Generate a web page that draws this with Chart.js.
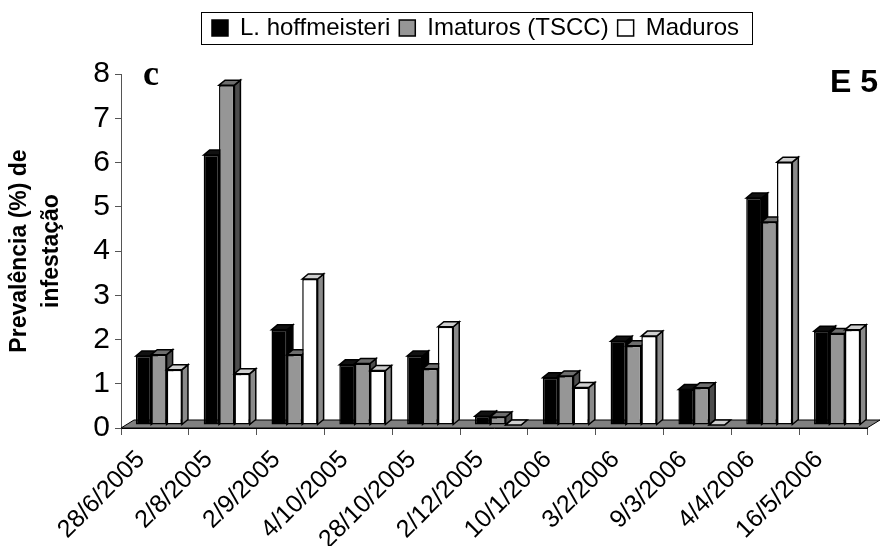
<!DOCTYPE html>
<html>
<head>
<meta charset="utf-8">
<script src="https://cdn.jsdelivr.net/npm/chart.js@4.4.1/dist/chart.umd.min.js"></script>
<style>
html, body { margin: 0; padding: 0; background: #fff; }
</style>
</head>
<body>
<canvas id="graphE5" width="885" height="546"></canvas>
<script>
// dates de collecte (E 5)
const dates = ["28/6/2005", "2/8/2005", "2/9/2005", "4/10/2005", "28/10/2005", "2/12/2005",
               "10/1/2006", "3/2/2006", "9/3/2006", "4/4/2006", "16/5/2006"];

// prévalence (%) par groupe
const hoffmeisteri = [1.56, 6.10, 2.15, 1.36, 1.56, 0.20, 1.07, 1.89, 0.80, 5.13, 2.12];
const imaturos     = [1.59, 7.68, 1.59, 1.39, 1.27, 0.18, 1.11, 1.79, 0.84, 4.59, 2.07];
const maduros      = [1.25, 1.16, 3.30, 1.23, 2.22, 0.00, 0.85, 2.01, 0.00, 5.94, 2.15];

const yMin = 0;
const yMax = 8;
const yPas = 1;

const police = "'Liberation Sans', Arial, sans-serif";

/* faces 3D des barres : côté et dessus, par série */
const faces = [
  {cote: "#000000", dessus: "#111111"},
  {cote: "#4d4d4d", dessus: "#6e6e6e"},
  {cote: "#8a8a8a", dessus: "#cfcfcf"}
];
const prof = {dx: 6, dy: -5};       // profondeur des barres
const recul = {x: 4, y: -3};        // barres posées en retrait sur le sol
const sol = {dx: 13, dy: -8};       // profondeur du sol

const relief3d = {
  id: "relief3d",
  beforeLayout(chart) {
    // espace sous la légende
    const leg = chart.legend;
    if (leg && !leg._agrandi) {
      const fit = leg.fit;
      leg.fit = function () {
        fit.call(this);
        this.height += 24;
      };
      leg._agrandi = true;
    }
  },
  afterLayout(chart) {
    chart.legend.left += 42;
    chart.legend.right += 42;
  },
  beforeDatasetsDraw(chart) {
    const ctx = chart.ctx;
    const a = chart.chartArea;
    ctx.save();
    ctx.beginPath();
    ctx.moveTo(a.left, a.bottom);
    ctx.lineTo(a.right, a.bottom);
    ctx.lineTo(a.right + sol.dx, a.bottom + sol.dy);
    ctx.lineTo(a.left + sol.dx, a.bottom + sol.dy);
    ctx.closePath();
    ctx.fillStyle = "#808080";
    ctx.fill();
    ctx.strokeStyle = "#000";
    ctx.lineWidth = 1;
    ctx.stroke();
    ctx.restore();
  },
  // les barres sont dessinées plus bas, série par série, de gauche à droite
  beforeDatasetDraw() {
    return false;
  },
  afterDatasetsDraw(chart) {
    const ctx = chart.ctx;
    ctx.save();
    ctx.translate(recul.x, recul.y);
    chart.data.datasets.forEach((ds, i) => {
      const meta = chart.getDatasetMeta(i);
      if (meta.hidden) return;
      const f = faces[i];
      meta.data.forEach(bar => {
        const p = bar.getProps(["x", "y", "base", "width"], true);
        const g = p.x - p.width / 2;
        const d = p.x + p.width / 2;
        ctx.strokeStyle = "#000";
        ctx.lineWidth = 1.5;
        // côté droit
        ctx.beginPath();
        ctx.moveTo(d, p.y);
        ctx.lineTo(d + prof.dx, p.y + prof.dy);
        ctx.lineTo(d + prof.dx, p.base + prof.dy);
        ctx.lineTo(d, p.base);
        ctx.closePath();
        ctx.fillStyle = f.cote;
        ctx.fill();
        ctx.stroke();
        // dessus
        ctx.beginPath();
        ctx.moveTo(g, p.y);
        ctx.lineTo(g + prof.dx, p.y + prof.dy);
        ctx.lineTo(d + prof.dx, p.y + prof.dy);
        ctx.lineTo(d, p.y);
        ctx.closePath();
        ctx.fillStyle = f.dessus;
        ctx.fill();
        ctx.stroke();
        // face avant
        bar.draw(ctx, chart.chartArea);
      });
    });
    ctx.restore();
  },
  afterDraw(chart) {
    const ctx = chart.ctx;
    // cadre de la légende
    const boites = chart.legend.legendHitBoxes;
    if (boites && boites.length) {
      let g = Infinity, d = -Infinity, h = Infinity, b = -Infinity;
      boites.forEach(bx => {
        g = Math.min(g, bx.left);
        d = Math.max(d, bx.left + bx.width);
        h = Math.min(h, bx.top);
        b = Math.max(b, bx.top + bx.height);
      });
      ctx.save();
      ctx.strokeStyle = "#000";
      ctx.lineWidth = 1;
      ctx.strokeRect(Math.round(g - 11) + 0.5, Math.round(h - 4) + 0.5, Math.round(d - g + 24), Math.round(b - h + 8));
      ctx.restore();
    }
    // repères du panneau
    ctx.save();
    ctx.fillStyle = "#000";
    ctx.textBaseline = "alphabetic";
    ctx.font = "bold 36px 'Liberation Serif', 'Times New Roman', serif";
    ctx.textAlign = "left";
    ctx.fillText("c", 143, 85);
    ctx.font = "bold 32px " + police;
    ctx.textAlign = "right";
    ctx.fillText("E 5", 878, 92);
    ctx.restore();
  }
};

const ctx = document.getElementById("graphE5").getContext("2d");

const chart = new Chart(ctx, {
  type: "bar",
  data: {
    labels: dates,
    datasets: [
      {label: "L. hoffmeisteri", data: hoffmeisteri, backgroundColor: "#000000"},
      {label: "Imaturos (TSCC)", data: imaturos, backgroundColor: "#969696"},
      {label: "Maduros", data: maduros, backgroundColor: "#ffffff"}
    ]
  },
  options: {
    responsive: false,
    animation: false,
    layout: {padding: {top: 7, right: 18, left: 0, bottom: 0}},
    datasets: {
      bar: {
        borderColor: "#000",
        borderWidth: 1.5,
        borderSkipped: false,
        categoryPercentage: 0.68,
        barPercentage: 1.0,
        clip: false
      }
    },
    plugins: {
      legend: {
        position: "top",
        labels: {
          boxWidth: 16,
          boxHeight: 16,
          padding: 9,
          color: "#000",
          font: {family: police, size: 24}
        }
      },
      tooltip: {enabled: false}
    },
    scales: {
      x: {
        grid: {display: true, drawOnChartArea: false, drawTicks: true, tickLength: 7, color: "#555", offset: true},
        border: {display: true, color: "#000", width: 1},
        ticks: {
          color: "#000",
          font: {family: police, size: 25},
          minRotation: 45,
          maxRotation: 45,
          autoSkip: false,
          labelOffset: -14,
          padding: 10
        },
        afterFit(scale) { scale.height = 118; }
      },
      y: {
        min: yMin,
        max: yMax,
        grid: {display: true, drawOnChartArea: false, drawTicks: true, tickLength: 6, color: "#555"},
        border: {display: true, color: "#555", width: 1},
        ticks: {
          stepSize: yPas,
          color: "#000",
          font: {family: police, size: 30},
          padding: 5
        },
        title: {
          display: true,
          text: ["Prevalência (%) de", "infestação"],
          color: "#000",
          font: {family: police, size: 23, weight: "bold", lineHeight: "32px"},
          padding: {top: 4, bottom: 0}
        },
        afterFit(scale) { scale.width = 121; }
      }
    }
  },
  plugins: [relief3d]
});
</script>
</body>
</html>
